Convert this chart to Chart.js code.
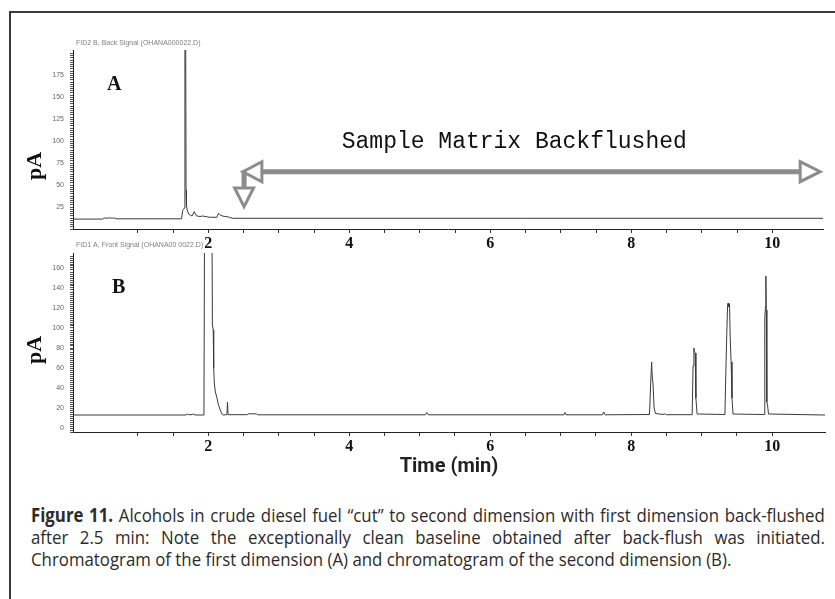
<!DOCTYPE html>
<html>
<head>
<meta charset="utf-8">
<title>Figure 11 - Alcohols in crude diesel fuel</title>
<script src="https://cdn.jsdelivr.net/npm/chart.js@4.4.1/dist/chart.umd.min.js"></script>
<style>
  html, body { margin: 0; padding: 0; background: #fff; }
  #page { position: relative; width: 835px; height: 599px; overflow: hidden; background: #fff; }
  #frame { position: absolute; left: 9px; top: 11px; width: 900px; height: 700px;
           border-left: 2px solid #3a3a3a; border-top: 2px solid #3a3a3a; }
  canvas { position: absolute; left: 0; }
  #chartA { top: 0; }
  #chartB { top: 235px; }
  /* no condensed face installed, so the caption is squeezed horizontally */
  #caption { position: absolute; left: 31px; top: 504px; width: 897px;
             transform: scaleX(0.885); transform-origin: 0 0;
             font-family: "Open Sans", sans-serif;
             font-size: 19px; line-height: 22px; color: #2b2b2b; }
  #caption div { white-space: nowrap; }
  #caption .full { text-align: justify; text-align-last: justify; word-spacing: -2px; }
</style>
</head>
<body>
<div id="page">
  <div id="frame"></div>
  <canvas id="chartA" width="835" height="255"></canvas>
  <canvas id="chartB" width="835" height="244"></canvas>
  <div id="caption">
    <div class="full"><b>Figure 11.</b> Alcohols in crude diesel fuel “cut” to second dimension with first dimension back-flushed</div>
    <div class="full">after 2.5 min: Note the exceptionally clean baseline obtained after back-flush was initiated.</div>
    <div>Chromatogram of the first dimension (A) and chromatogram of the second dimension (B).</div>
  </div>
</div>

<script>
// (A) first dimension, back signal - time in min, signal in pA
const topTime = [0.08, 0.50, 0.52, 0.56, 0.60, 0.64, 0.67, 0.69,
  1.62, 1.635, 1.65, 1.662, 1.668, 1.678, 1.684, 1.69, 1.70,
  1.72, 1.75, 1.77, 1.80, 1.83, 1.88, 1.92, 1.97, 2.02,
  2.12, 2.145, 2.16, 2.18, 2.21, 2.25, 2.30, 2.34, 10.72];
const topSignal = [11.3, 11.3, 12.6, 12.2, 12.7, 12.3, 12.6, 11.6,
  11.6, 21, 22.5, 24, 240, 240, 44, 27, 21.5,
  17, 15.5, 14.8, 19.7, 15, 14.2, 14.8, 14, 13.4,
  13.3, 17.9, 16.5, 15.5, 14.6, 14.2, 13.3, 12.2, 12.2];

// (B) second dimension, front signal
const bottomTime = [0.08, 1.68, 1.70, 1.72, 1.77, 1.79, 1.81,
  1.938, 1.946, 2.052, 2.058, 2.070, 2.076, 2.085, 2.10, 2.123, 2.14, 2.16, 2.18, 2.195, 2.21,
  2.264, 2.272, 2.28, 2.55, 2.57, 2.68, 2.70,
  5.08, 5.10, 5.12, 7.045, 7.06, 7.075, 7.59, 7.61, 7.63,
  8.26, 8.277, 8.29, 8.298, 8.31, 8.325, 8.345, 8.45, 8.47, 8.50,
  8.865, 8.878, 8.890, 8.898, 8.908, 8.918, 8.935,
  9.33, 9.345, 9.357, 9.368, 9.376, 9.385, 9.395, 9.405, 9.418, 9.43, 9.445,
  9.885, 9.896, 9.905, 9.911, 9.917, 9.925, 9.935, 9.948, 10.75];
const bottomSignal = [13, 13, 14, 13.3, 13.3, 14, 13,
  13, 200, 200, 103, 98, 60, 45, 36, 30, 24, 20, 16, 14, 13,
  13.3, 26, 13.3, 13.3, 14.2, 14.2, 13.2,
  13.2, 15.5, 13.2, 13.2, 15.5, 13.2, 13.2, 16, 13.2,
  13.5, 45, 66, 52, 44, 20, 14.5, 13.5, 14.3, 13.3,
  13.3, 62, 80, 76, 75, 30, 14,
  13.5, 62, 96, 123, 125, 121, 124, 90, 66, 30, 14,
  13.5, 110, 121, 152, 118, 26, 23, 14, 13];

// tick labels
const minuteLabels = [2, 4, 6, 8, 10];
const topYLabels = [25, 50, 75, 100, 125, 150, 175];
const bottomYLabels = [0, 20, 40, 60, 80, 100, 120, 140, 160];

const TRACE = '#3a3a3a';
const ARROW = '#8c8c8c';

function onStep(value, step) {
  return Math.abs(value / step - Math.round(value / step)) < 1e-6;
}

function header(ctx, text, x, y) {
  ctx.font = '7px "Liberation Sans", sans-serif';
  ctx.fillStyle = '#808080';
  ctx.textAlign = 'left';
  ctx.textBaseline = 'middle';
  ctx.fillText(text, x, y);
}

function panelLetter(ctx, text, x, y) {
  ctx.font = 'bold 20px "Liberation Serif", serif';
  ctx.fillStyle = '#111';
  ctx.textAlign = 'left';
  ctx.textBaseline = 'alphabetic';
  ctx.fillText(text, x, y);
}

function unitLabel(ctx, x, y) {
  ctx.save();
  ctx.translate(x, y);
  ctx.rotate(-Math.PI / 2);
  ctx.font = 'bold 22px "Liberation Serif", serif';
  ctx.fillStyle = '#111';
  ctx.textAlign = 'center';
  ctx.textBaseline = 'middle';
  ctx.fillText('pA', 0, 0);
  ctx.restore();
}

function backflushArrow(ctx, xs, ys) {
  const lvl = ys.getPixelForValue(65.3);
  const left = xs.getPixelForValue(2.49);
  const right = xs.getPixelForValue(10.68);
  const sx = left + 1.2;
  const dropTop = ys.getPixelForValue(46.7);
  const dropTip = ys.getPixelForValue(25.4);

  ctx.strokeStyle = ARROW;
  ctx.lineWidth = 5;
  ctx.beginPath();
  ctx.moveTo(left + 19, lvl);
  ctx.lineTo(right - 20, lvl);
  ctx.moveTo(sx, lvl - 1);
  ctx.lineTo(sx, dropTop);
  ctx.stroke();

  ctx.lineWidth = 3;
  ctx.lineJoin = 'miter';
  ctx.beginPath();
  ctx.moveTo(left + 19, lvl - 10);
  ctx.lineTo(left, lvl);
  ctx.lineTo(left + 19, lvl + 10);
  ctx.closePath();
  ctx.moveTo(right - 20, lvl - 10);
  ctx.lineTo(right, lvl);
  ctx.lineTo(right - 20, lvl + 10);
  ctx.closePath();
  ctx.moveTo(sx - 9.5, dropTop);
  ctx.lineTo(sx + 9.5, dropTop);
  ctx.lineTo(sx, dropTip);
  ctx.closePath();
  ctx.stroke();

  ctx.font = '23px "Liberation Mono", monospace';
  ctx.fillStyle = '#111';
  ctx.textAlign = 'center';
  ctx.textBaseline = 'alphabetic';
  ctx.fillText('Sample Matrix Backflushed', xs.getPixelForValue(6.34), ys.getPixelForValue(92));
}

function traceChart(canvasId, times, signal, opts) {
  const ctx = document.getElementById(canvasId);
  return new Chart(ctx, {
    type: 'line',
    data: {
      datasets: [{
        data: times.map((t, i) => ({ x: t, y: signal[i] })),
        borderColor: TRACE,
        borderWidth: 1,
        pointRadius: 0,
        tension: 0
      }]
    },
    options: {
      responsive: false,
      animation: false,
      devicePixelRatio: 1,
      layout: { padding: opts.padding },
      plugins: {
        legend: { display: false },
        tooltip: { enabled: false }
      },
      scales: {
        x: {
          type: 'linear',
          min: opts.xMin,
          max: opts.xMax,
          afterFit: s => { s.height = opts.xHeight; },
          afterBuildTicks: s => { s.ticks = s.ticks.filter(t => onStep(t.value, 0.5)); },
          border: { color: '#222', width: 1 },
          grid: { drawOnChartArea: false, tickLength: 4, tickColor: '#333' },
          ticks: {
            stepSize: 0.5,
            autoSkip: false,
            maxRotation: 0,
            padding: 1,
            color: '#111',
            font: { family: '"Liberation Serif", serif', weight: 'bold', size: 16 },
            callback: v => minuteLabels.includes(v) ? String(v) : ''
          },
          title: opts.xTitle || { display: false }
        },
        y: {
          min: opts.yMin,
          max: opts.yMax,
          afterFit: s => { s.width = 73; },
          afterBuildTicks: s => { s.ticks = s.ticks.filter(t => onStep(t.value, opts.yStep)); },
          border: { color: '#222', width: 1 },
          grid: { drawOnChartArea: false, tickLength: 3, tickColor: '#555' },
          ticks: {
            stepSize: opts.yStep,
            autoSkip: false,
            padding: 6,
            color: '#666',
            font: { family: '"Liberation Sans", sans-serif', size: 7 },
            callback: v => opts.yLabels.includes(v) ? String(v) : ''
          }
        }
      }
    },
    plugins: [{
      id: 'decor',
      afterDraw: chart => {
        const c = chart.ctx;
        c.save();
        opts.decor(c, chart.scales.x, chart.scales.y);
        c.restore();
      }
    }]
  });
}

traceChart('chartA', topTime, topSignal, {
  padding: { top: 50, right: 12, left: 0, bottom: 0 },
  xMin: 0.08, xMax: 10.72, xHeight: 26,
  yMin: 0, yMax: 204, yStep: 2.5, yLabels: topYLabels,
  decor: (ctx, xs, ys) => {
    header(ctx, 'FID2 B, Back Signal (OHANA000022.D)', 76, 43);
    panelLetter(ctx, 'A', 107, 90);
    unitLabel(ctx, 35, 166);
    backflushArrow(ctx, xs, ys);
  }
});

traceChart('chartB', bottomTime, bottomSignal, {
  padding: { top: 18, right: 10, left: 0, bottom: 0 },
  xMin: 0.08, xMax: 10.75, xHeight: 47,
  yMin: -4, yMax: 175, yStep: 2, yLabels: bottomYLabels,
  xTitle: {
    display: true,
    text: 'Time (min)',
    color: '#222',
    padding: 0,
    font: { family: 'Roboto, sans-serif', weight: 'bold', size: 20, lineHeight: 1.2 }
  },
  decor: (ctx, xs, ys) => {
    header(ctx, 'FID1 A, Front Signal (OHANA00 0022.D)', 76, 245 - 235);
    panelLetter(ctx, 'B', 112, 293 - 235);
    unitLabel(ctx, 35, 350 - 235);
  }
});
</script>
</body>
</html>
